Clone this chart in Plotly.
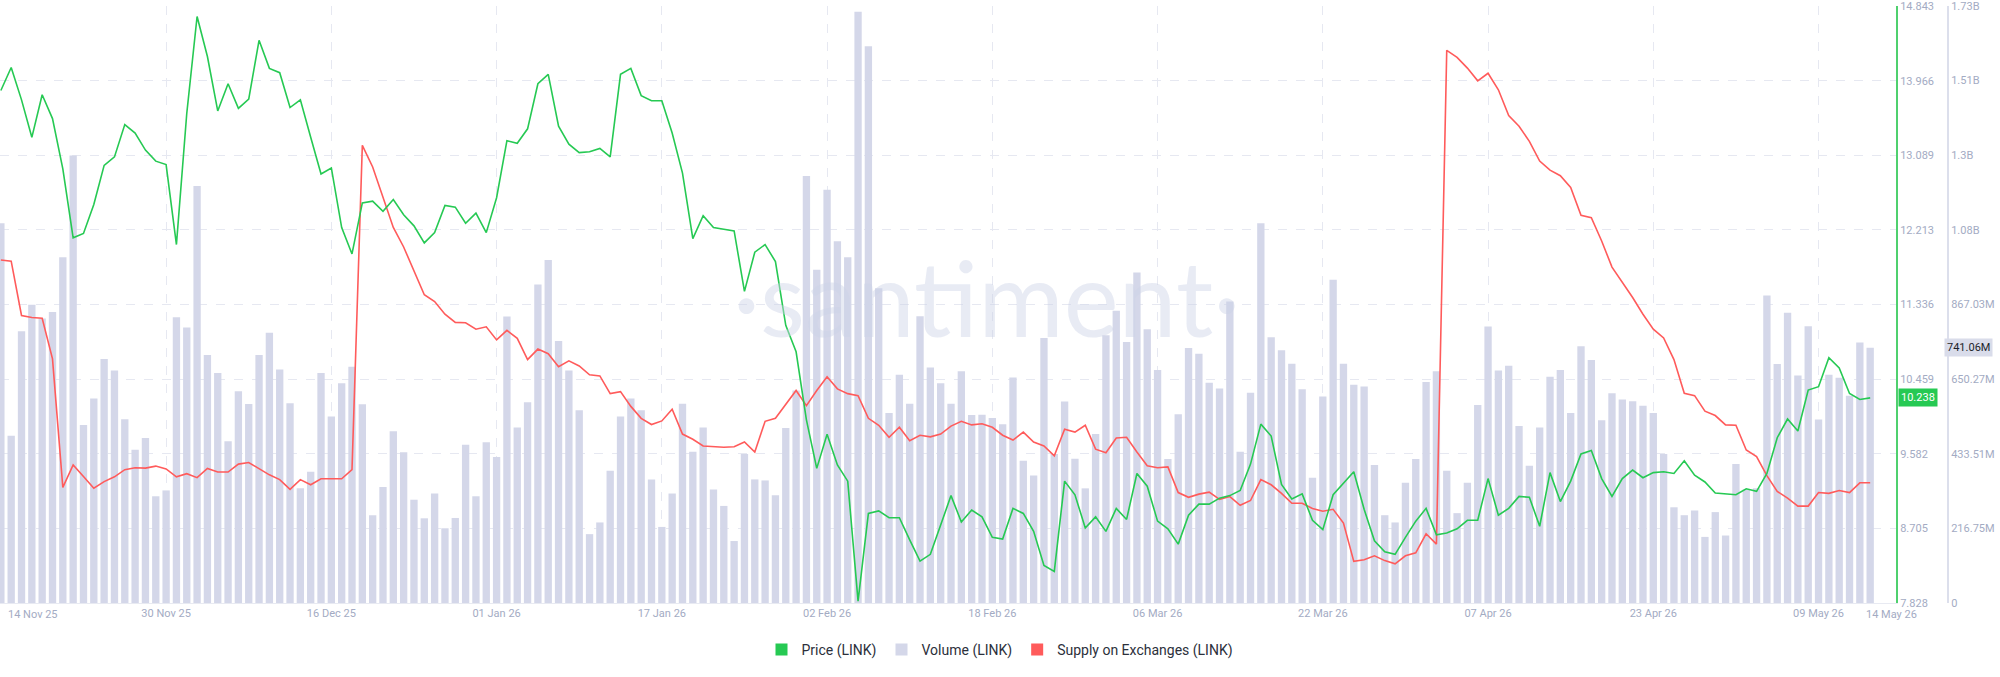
import pandas as pd
import plotly.graph_objects as go

dates = pd.date_range("2025-11-14", periods=182, freq="D")

price = [
    13.85, 14.12, 13.74, 13.30, 13.80, 13.52, 12.93, 12.12, 12.17, 12.51,
    12.97, 13.07, 13.45, 13.35, 13.15, 13.02, 12.98, 12.04, 13.58, 14.72,
    14.25, 13.61, 13.93, 13.64, 13.75, 14.44, 14.11, 14.06, 13.65, 13.74,
    13.30, 12.87, 12.94, 12.24, 11.93, 12.53, 12.55, 12.43, 12.57, 12.39,
    12.26, 12.06, 12.18, 12.50, 12.48, 12.29, 12.41, 12.18, 12.59, 13.26,
    13.23, 13.40, 13.93, 14.04, 13.43, 13.22, 13.12, 13.13, 13.17, 13.07,
    14.04, 14.11, 13.79, 13.73, 13.73, 13.35, 12.88, 12.11, 12.38, 12.24,
    12.22, 12.20, 11.49, 11.95, 12.04, 11.84, 11.09, 10.78, 9.98, 9.41,
    9.81, 9.45, 9.26, 7.85, 8.88, 8.91, 8.83, 8.83, 8.57, 8.32,
    8.40, 8.74, 9.09, 8.78, 8.92, 8.84, 8.60, 8.58, 8.94, 8.88,
    8.67, 8.27, 8.20, 9.26, 9.10, 8.71, 8.84, 8.67, 8.94, 8.81,
    9.35, 9.20, 8.79, 8.70, 8.52, 8.86, 8.99, 8.99, 9.06, 9.09,
    9.15, 9.46, 9.93, 9.79, 9.22, 9.05, 9.11, 8.80, 8.69, 9.10,
    9.23, 9.37, 8.93, 8.56, 8.43, 8.40, 8.60, 8.79, 8.94, 8.63,
    8.65, 8.70, 8.80, 8.80, 9.29, 8.86, 8.94, 9.08, 9.07, 8.73,
    9.36, 9.02, 9.26, 9.58, 9.62, 9.29, 9.08, 9.29, 9.39, 9.30,
    9.36, 9.37, 9.35, 9.50, 9.33, 9.25, 9.12, 9.11, 9.10, 9.17,
    9.14, 9.35, 9.77, 9.99, 9.85, 10.33, 10.37, 10.71, 10.59, 10.29,
    10.22, 10.238,
]

volume_m = [
    1103, 486, 789, 866, 826, 845, 1004, 1300, 517, 594,
    709, 675, 534, 445, 479, 310, 327, 830, 800, 1211,
    720, 668, 470, 615, 578, 720, 785, 678, 580, 333,
    381, 668, 542, 638, 686, 577, 255, 337, 499, 438,
    300, 246, 318, 217, 247, 460, 310, 467, 424, 832,
    510, 583, 925, 996, 761, 675, 560, 200, 234, 384,
    542, 594, 560, 359, 221, 318, 579, 439, 510, 330,
    282, 180, 433, 359, 356, 313, 508, 617, 1240, 968,
    1200, 1051, 1004, 1717, 1617, 914, 552, 663, 579, 833,
    684, 638, 579, 673, 546, 547, 537, 519, 655, 413,
    370, 770, 433, 585, 419, 333, 491, 778, 849, 758,
    960, 795, 677, 418, 548, 741, 724, 640, 623, 876,
    439, 611, 1103, 772, 734, 695, 621, 364, 600, 939,
    695, 634, 629, 401, 255, 234, 349, 418, 642, 673,
    384, 261, 349, 575, 803, 675, 689, 514, 399, 510,
    657, 677, 552, 746, 706, 531, 609, 591, 586, 573,
    552, 433, 278, 255, 269, 192, 264, 196, 404, 330,
    333, 893, 694, 843, 661, 804, 533, 663, 654, 602,
    757, 741.06,
]

supply_m = [
    177.24, 177.18, 174.45, 174.35, 174.31, 172.27, 165.81, 166.94, 166.36, 165.77,
    166.10, 166.34, 166.70, 166.80, 166.78, 166.88, 166.74, 166.34, 166.50, 166.30,
    166.76, 166.58, 166.58, 166.98, 167.06, 166.74, 166.44, 166.20, 165.71, 166.20,
    165.94, 166.24, 166.24, 166.24, 166.70, 183.00, 181.91, 180.42, 178.87, 177.89,
    176.68, 175.49, 175.15, 174.51, 174.10, 174.08, 173.76, 173.88, 173.22, 173.70,
    173.30, 172.23, 172.76, 172.53, 171.87, 172.17, 171.91, 171.47, 171.41, 170.52,
    170.62, 169.88, 169.28, 168.97, 169.15, 169.74, 168.49, 168.23, 167.89, 167.85,
    167.83, 167.85, 168.09, 167.59, 169.13, 169.28, 169.98, 170.68, 169.92, 170.68,
    171.37, 170.76, 170.52, 170.42, 169.28, 168.93, 168.33, 168.83, 168.15, 168.43,
    168.35, 168.49, 168.89, 169.13, 168.95, 169.01, 168.83, 168.43, 168.19, 168.59,
    168.09, 167.89, 167.40, 168.73, 168.59, 168.93, 167.73, 167.55, 168.29, 168.33,
    167.59, 166.90, 166.80, 166.84, 165.55, 165.31, 165.47, 165.57, 165.21, 165.35,
    164.91, 165.15, 166.20, 165.94, 165.51, 165.01, 165.01, 164.75, 164.61, 164.71,
    164.02, 162.09, 162.17, 162.37, 162.13, 161.97, 162.37, 162.52, 163.48, 162.96,
    187.77, 187.42, 186.88, 186.24, 186.62, 185.79, 184.49, 183.96, 183.20, 182.21,
    181.75, 181.47, 180.88, 179.48, 179.36, 178.19, 176.88, 176.14, 175.35, 174.51,
    173.76, 173.32, 172.23, 170.54, 170.42, 169.64, 169.42, 168.95, 168.93, 167.69,
    167.36, 166.40, 165.61, 165.27, 164.87, 164.87, 165.55, 165.51, 165.65, 165.55,
    166.04, 166.04,
]

price_ticks = [7.828, 8.705, 9.582, 10.459, 11.336, 12.213, 13.089, 13.966, 14.843]
volume_ticks = [0, 216.75, 433.51, 650.27, 867.03, 1083.8, 1300.5, 1517.3, 1734]
volume_ticktext = ["0", "216.75M", "433.51M", "650.27M", "867.03M", "1.08B", "1.3B", "1.51B", "1.73B"]
date_ticks = ["2025-11-14", "2025-11-30", "2025-12-16", "2026-01-01", "2026-01-17", "2026-02-02",
              "2026-02-18", "2026-03-06", "2026-03-22", "2026-04-07", "2026-04-23", "2026-05-09"]
date_ticktext = ["", "30 Nov 25", "16 Dec 25", "01 Jan 26", "17 Jan 26", "02 Feb 26",
                 "18 Feb 26", "06 Mar 26", "22 Mar 26", "07 Apr 26", "23 Apr 26", "09 May 26"]
first_label = "14 Nov 25"
last_label = "14 May 26"

GREEN = "#26c953"
RED = "#ff5b5b"
BAR = "#d4d7e9"
LABEL = "#a3abc3"
GRID = "#e6e8f1"

W, H = 2000, 677
ML, MR, MT, MB = 0, 10, 6, 74
PW = W - ML - MR
PLOT_RIGHT = 1896

fig = go.Figure()
fig.add_trace(go.Bar(x=dates, y=volume_m, yaxis="y", marker=dict(color=BAR, line=dict(width=0)),
                     showlegend=False, name="Volume (LINK)"))
fig.add_trace(go.Scatter(x=dates, y=supply_m, yaxis="y2", mode="lines",
                         line=dict(color=RED, width=1.6), showlegend=False, name="Supply on Exchanges (LINK)"))
fig.add_trace(go.Scatter(x=dates, y=price, yaxis="y3", mode="lines",
                         line=dict(color=GREEN, width=1.6), showlegend=False, name="Price (LINK)"))

for nm, col in [("Price (LINK)", GREEN), ("Volume (LINK)", BAR), ("Supply on Exchanges (LINK)", RED)]:
    fig.add_trace(go.Scatter(x=[None], y=[None], mode="markers", name=nm,
                             marker=dict(symbol="square", size=10, color=col), showlegend=True))

fig.update_layout(
    width=W, height=H,
    margin=dict(l=ML, r=MR, t=MT, b=MB, pad=0),
    paper_bgcolor="white", plot_bgcolor="white",
    bargap=0.29,
    font=dict(family="Roboto, Arial, sans-serif", size=11, color=LABEL),
    xaxis=dict(
        domain=[0, PLOT_RIGHT / PW],
        type="date",
        range=["2025-11-13 22:00", "2026-05-16 12:00"],
        tickmode="array", tickvals=date_ticks, ticktext=date_ticktext,
        showgrid=True, gridcolor=GRID, griddash="dash", gridwidth=1,
        showline=True, linecolor="#e8eaf2", linewidth=1,
        ticks="", tickfont=dict(size=11, color=LABEL),
        zeroline=False, fixedrange=True,
    ),
    yaxis=dict(
        anchor="free", position=1948 / PW, side="right",
        range=[0, 1734.05],
        tickmode="array", tickvals=volume_ticks, ticktext=volume_ticktext,
        showgrid=True, gridcolor=GRID, griddash="dash", gridwidth=1,
        showline=True, linecolor="#dcdfec", linewidth=2,
        ticks="", tickfont=dict(size=11, color=LABEL),
        ticklabeloverflow="allow",
        zeroline=False,
    ),
    yaxis2=dict(overlaying="y", range=[160, 190], visible=False),
    yaxis3=dict(
        overlaying="y", anchor="x", side="right",
        range=[7.828, 14.8432],
        tickmode="array", tickvals=price_ticks, ticktext=[f"{v:.3f}" for v in price_ticks],
        showgrid=False, showline=True, linecolor="#4fd06e", linewidth=2,
        ticks="", tickfont=dict(size=11, color=LABEL),
        ticklabeloverflow="allow",
        zeroline=False,
    ),
    legend=dict(
        orientation="h", xref="container", yref="container",
        x=0.5, y=1 - 650 / H, xanchor="center", yanchor="middle",
        font=dict(size=14, color="#2c303b"), itemsizing="constant",
        bgcolor="rgba(0,0,0,0)", traceorder="normal",
    ),
    annotations=[
        dict(text="·santiment·", xref="paper", yref="paper", x=986 / PW, y=1 - (296 - MT) / (H - MT - MB),
             xanchor="center", yanchor="middle", showarrow=False,
             font=dict(family="Lato, sans-serif", size=104, color="rgba(205,210,230,0.45)")),
        dict(text=first_label, xref="paper", yref="paper", x=6 / PW, y=0, yshift=-11,
             xanchor="left", yanchor="middle", showarrow=False, font=dict(size=11, color=LABEL)),
        dict(text=last_label, xref="paper", yref="paper", x=1891 / PW, y=0, yshift=-11,
             xanchor="center", yanchor="middle", showarrow=False, font=dict(size=11, color=LABEL)),
        dict(text=f"{price[-1]:.3f}", xref="paper", yref="y3", x=1898 / PW, y=price[-1],
             xanchor="left", yanchor="middle", showarrow=False, bgcolor=GREEN, borderpad=2,
             font=dict(size=11, color="white")),
        dict(text=f"{volume_m[-1]:.2f}M", xref="paper", yref="y", x=1944 / PW, y=volume_m[-1],
             xanchor="left", yanchor="middle", showarrow=False, bgcolor="#d9dcea", borderpad=2,
             font=dict(size=11, color="#1c1f2a")),
    ],
)

fig.write_html("out.html")
